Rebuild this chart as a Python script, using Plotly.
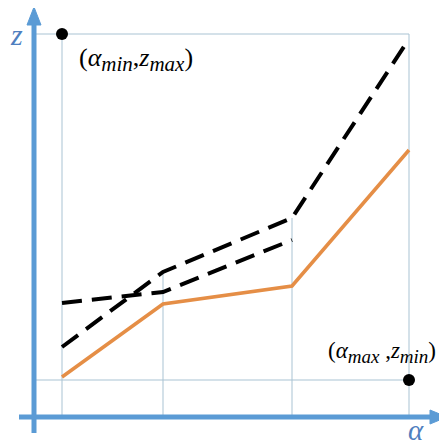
import plotly.graph_objects as go

# alpha grid positions and curves (arbitrary units)
alpha = [0.28, 1.29, 2.58, 3.75]
z_orange = [0.40, 1.13, 1.31, 2.67]
z_dash_steep = [0.70, 1.45, 1.99, 3.78]
alpha_dash_flat = [0.28, 1.29, 2.58]
z_dash_flat = [1.14, 1.25, 1.77]
alpha_min, alpha_max = 0.28, 3.75
z_min, z_max = 0.37, 3.83

AXIS = "#5B9BD5"
GRID = "#A9C3D3"
ORANGE = "#E58E46"
LBL = "#4F7FBF"

fig = go.Figure()

# drop lines / frame
grid_segs = [
    ([alpha_min, alpha_min], [0, z_max]),
    ([alpha_max, alpha_max], [0, z_max]),
    ([0, alpha_max], [z_max, z_max]),
    ([0, alpha_max], [z_min, z_min]),
    ([alpha[1], alpha[1]], [0, z_dash_steep[1]]),
    ([alpha[2], alpha[2]], [0, z_dash_steep[2]]),
]
for xs, ys in grid_segs:
    fig.add_trace(go.Scatter(x=xs, y=ys, mode="lines",
                             line=dict(color=GRID, width=1), hoverinfo="skip"))

fig.add_trace(go.Scatter(x=alpha, y=z_orange, mode="lines",
                         line=dict(color=ORANGE, width=3.5)))
fig.add_trace(go.Scatter(x=alpha, y=z_dash_steep, mode="lines",
                         line=dict(color="black", width=4, dash="20px,10px")))
fig.add_trace(go.Scatter(x=alpha_dash_flat, y=z_dash_flat, mode="lines",
                         line=dict(color="black", width=4, dash="20px,10px")))
fig.add_trace(go.Scatter(x=[alpha_min, alpha_max], y=[z_max, z_min], mode="markers",
                         marker=dict(color="black", size=12)))

# axes with arrows
shapes = [
    dict(type="line", xref="x", yref="y", x0=0, x1=0, y0=-0.16, y1=3.95,
         line=dict(color=AXIS, width=5)),
    dict(type="line", xref="x", yref="y", x0=-0.15, x1=3.98, y0=0, y1=0,
         line=dict(color=AXIS, width=5)),
    dict(type="path", xref="x", yref="y",
         path="M -0.07,3.92 L 0.07,3.92 L 0.0,4.10 Z",
         fillcolor=AXIS, line=dict(color=AXIS, width=1)),
    dict(type="path", xref="x", yref="y",
         path="M 3.96,0.07 L 3.96,-0.07 L 4.13,0.0 Z",
         fillcolor=AXIS, line=dict(color=AXIS, width=1)),
]

def sub(t, size):
    return '<sub><span style="font-size:%dpx"><i>%s</i></span></sub>' % (size, t)

lbl_top = "(<i>α</i>" + sub("min", 21) + ",<i>z</i>" + sub("max", 21) + ")"
lbl_bot = "(<i>α</i>" + sub("max", 19) + " ,<i>z</i>" + sub("min", 19) + ")"

annotations = [
    dict(x=-0.18, y=3.83, text="<i>z</i>", showarrow=False, xref="x", yref="y",
         font=dict(family="Liberation Serif", size=30, color=LBL)),
    dict(x=3.82, y=-0.13, text="<i>α</i>", showarrow=False, xref="x", yref="y",
         font=dict(family="Liberation Serif", size=29, color=LBL)),
    dict(x=0.43, y=3.58, text=lbl_top,
         showarrow=False, xref="x", yref="y", xanchor="left",
         font=dict(family="Liberation Serif", size=26, color="black")),
    dict(x=2.92, y=0.65, text=lbl_bot,
         showarrow=False, xref="x", yref="y", xanchor="left",
         font=dict(family="Liberation Serif", size=23, color="black")),
]

fig.update_layout(
    width=439, height=439,
    margin=dict(l=0, r=0, t=0, b=0),
    paper_bgcolor="white", plot_bgcolor="white",
    showlegend=False,
    xaxis=dict(range=[-0.26, 4.13], visible=False, fixedrange=True),
    yaxis=dict(range=[-0.30, 4.09], visible=False, fixedrange=True),
    shapes=shapes, annotations=annotations,
)

fig.write_html("out.html")
